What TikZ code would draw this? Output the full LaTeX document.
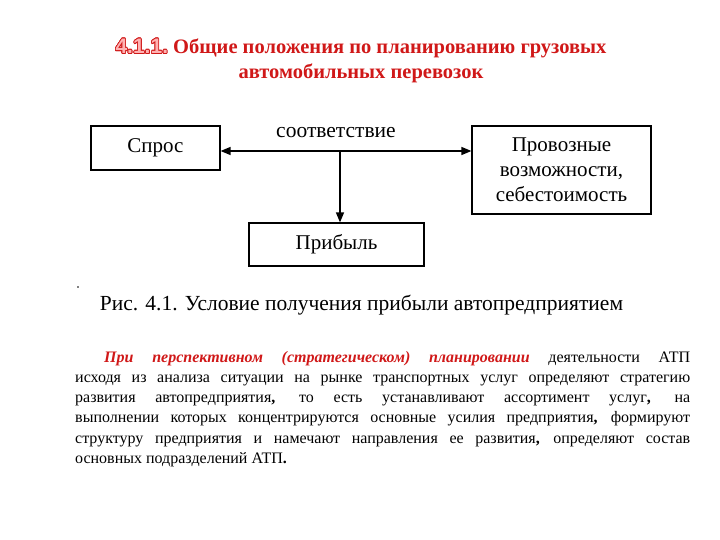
\documentclass[tikz,border=0pt]{standalone}
\usepackage{fontspec}
\setmainfont{Liberation Serif}
\newfontfamily\headsans{Liberation Sans}
\newfontfamily\bodyserif{Liberation Serif}
\usepackage{contour}
\usetikzlibrary{arrows.meta}
\definecolor{tred}{RGB}{208,24,24}
\contourlength{0.8pt}
\newcommand{\numhead}{{\headsans\fontsize{21}{25}\selectfont\contour{tred}{\textcolor{red!30!white}{4.1.1.}}}}
\begin{document}
\begin{tikzpicture}[x=1pt,y=-1pt,
  box/.style={draw, line width=1.2pt, inner sep=0pt, align=center,
    font=\bodyserif\fontsize{21}{25}\selectfont},
  conn/.style={line width=1.4pt},
  tip/.tip={Triangle[length=10pt,width=8pt]}]
\useasboundingbox (0,0) rectangle (720,540);
% title
\node[align=center, text=tred, font=\bodyserif\bfseries\fontsize{20.5}{25}\selectfont] (title) at (361,61)
  {\numhead{} Общие положения по планированию грузовых\\автомобильных перевозок};
% boxes
\node[box, minimum width=129pt, minimum height=44pt] (sp) at (155.5,148) {Спрос};
\node[box, minimum width=179pt, minimum height=88pt] (pv) at (561.5,170) {Провозные\\возможности,\\себестоимость};
\node[box, minimum width=175pt, minimum height=43pt] (pb) at (336.5,244.5) {Прибыль};
\coordinate (j) at (340,151);
\draw[conn, tip-tip] (sp.east |- j) -- (pv.west |- j);
\draw[conn, -tip] (j) -- (pb.north -| j);
\node[font=\bodyserif\fontsize{21.5}{24}\selectfont, anchor=base] (lbl) at (336,138) {соответствие};
% dot
\fill (78,287) circle (0.8pt);
% caption
\node[font=\bodyserif\fontsize{21.5}{25}\selectfont] (cap) at (361.5,305) {Рис. 4.1. Условие получения прибыли автопредприятием};
% paragraph
\node[anchor=north west, inner sep=0pt, text width=615pt, align=justify,
  font=\bodyserif\fontsize{16}{20.2}\selectfont] (para) at (75,351)
{\hspace*{29pt}\textcolor{tred}{\bfseries\itshape При перспективном (стратегическом) планировании} деятельности АТП\linebreak
исходя из анализа ситуации на рынке транспортных услуг определяют стратегию\linebreak
развития автопредприятия\textbf{,} то есть устанавливают ассортимент услуг\textbf{,} на\linebreak
выполнении которых концентрируются основные усилия предприятия\textbf{,} формируют\linebreak
структуру предприятия и намечают направления ее развития\textbf{,} определяют состав\linebreak
основных подразделений АТП\textbf{.}};
\end{tikzpicture}
\end{document}
